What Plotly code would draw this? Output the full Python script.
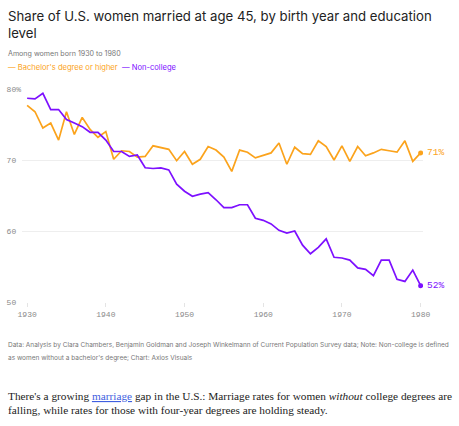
import plotly.graph_objects as go

# birth years and share married at 45 (percent)
years = list(range(1930, 1981))

bachelors = [77.7, 76.8, 74.5, 75.2, 72.8, 76.8, 73.6, 76.0, 74.3, 73.2,
             74.0, 70.1, 71.3, 71.2, 70.4, 70.5, 72.0, 71.8, 71.5, 69.9,
             71.2, 69.4, 70.1, 71.9, 71.4, 70.4, 68.4, 71.4, 71.1, 70.3,
             70.7, 71.0, 72.4, 69.4, 71.8, 70.9, 70.8, 72.7, 71.9, 70.0,
             72.0, 69.8, 71.9, 70.6, 71.0, 71.5, 71.3, 71.1, 72.7, 69.8,
             71.0]

non_college = [78.7, 78.6, 79.4, 77.1, 77.1, 75.7, 75.2, 74.7, 73.9, 73.9,
               72.8, 71.2, 71.2, 70.5, 70.7, 68.9, 68.8, 68.9, 68.6, 66.6,
               65.6, 64.9, 65.2, 65.4, 64.4, 63.3, 63.3, 63.7, 63.7, 61.8,
               61.5, 61.0, 60.1, 59.7, 60.0, 58.0, 56.8, 57.7, 58.9, 56.3,
               56.2, 55.9, 54.8, 54.6, 53.7, 55.9, 55.9, 53.2, 52.9, 54.5,
               52.3]

y_ticks = [50, 60, 70, 80]
y_ticktext = ["50\u00a0", "60\u00a0", "70\u00a0", "80%"]
x_ticks = [1930, 1940, 1950, 1960, 1970, 1980]

ORANGE = "#FBA31C"
PURPLE = "#7D10FF"
GRAY = "#8a8a8a"
SANS = "Inter, Lato, sans-serif"
MONO = "Liberation Mono, DejaVu Sans Mono, monospace"

W, H = 459, 426
L, R, T, B = 22, 36, 89, 124


def at(x, y):
    # pixel position on the page -> paper coords
    return dict(x=(x - L) / (W - L - R), y=(H - B - y) / (H - T - B),
                xref="paper", yref="paper")


fig = go.Figure()

fig.add_trace(go.Scatter(x=years, y=bachelors, mode="lines",
                         line=dict(color=ORANGE, width=1.7),
                         name="Bachelor's degree or higher", hoverinfo="x+y"))
fig.add_trace(go.Scatter(x=years, y=non_college, mode="lines",
                         line=dict(color=PURPLE, width=1.7),
                         name="Non-college", hoverinfo="x+y"))

# end point dots and labels
for series, color in [(bachelors, ORANGE), (non_college, PURPLE)]:
    fig.add_trace(go.Scatter(x=[years[-1]], y=[series[-1]], mode="markers",
                             marker=dict(color=color, size=5),
                             hoverinfo="skip"))
    fig.add_annotation(x=years[-1], y=series[-1], text=f"{round(series[-1])}%",
                       showarrow=False, xanchor="left", xshift=4,
                       font=dict(family=MONO, size=9.5, color=color))

annos = [
    (6, 6, "Share of U.S. women married at age 45, by birth year and education<br>level",
     dict(family=SANS, size=13.2, color="#222222"), "top"),
    (6, 53, "Among women born 1930 to 1980",
     dict(family=SANS, size=7.1, color="#777777"), "middle"),
    (6, 68, f"<span style='color:{ORANGE}'>— Bachelor's degree or higher</span>"
            f"  <span style='color:{PURPLE}'>— Non-college</span>",
     dict(family=SANS, size=7.6), "middle"),
    (6, 345, "Data: Analysis by Clara Chambers, Benjamin Goldman and Joseph Winkelmann "
             "of Current Population Survey data; Note: Non-college is defined",
     dict(family=SANS, size=6.5, color="#777777"), "middle"),
    (6, 358, "as women without a bachelor's degree; Chart: Axios Visuals",
     dict(family=SANS, size=6.5, color="#777777"), "middle"),
    (6, 396, "There's a growing <span style='color:#3f5fe0'><u>marriage</u></span> gap "
             "in the U.S.: Marriage rates for women <i>without</i> college degrees are",
     dict(family="Liberation Serif, serif", size=11.3, color="#222222"), "middle"),
    (6, 410, "falling, while rates for those with four-year degrees are holding steady.",
     dict(family="Liberation Serif, serif", size=11.3, color="#222222"), "middle"),
]
for x, y, text, font, ya in annos:
    fig.add_annotation(**at(x, y), text=text, showarrow=False, xanchor="left",
                       yanchor=ya, align="left", font=font)

fig.update_layout(
    width=W, height=H,
    margin=dict(l=L, r=R, t=T, b=B),
    paper_bgcolor="white", plot_bgcolor="white",
    showlegend=False,
    xaxis=dict(range=[1929.35, 1980.3], tickvals=x_ticks, showgrid=False,
               zeroline=False, ticks="outside", ticklen=4, tickcolor="#e4e4e4",
               tickfont=dict(family=MONO, size=8, color=GRAY), showline=False,
               automargin=False),
    yaxis=dict(range=[50, 80], tickvals=y_ticks, ticktext=y_ticktext,
               gridcolor="#eeeeee", gridwidth=1, zeroline=False,
               tickfont=dict(family=MONO, size=8, color=GRAY), ticklabelstandoff=0,
               automargin=False),
)

fig.write_html("out.html", config={"displayModeBar": False},
               post_script="document.body.style.margin='0';")
